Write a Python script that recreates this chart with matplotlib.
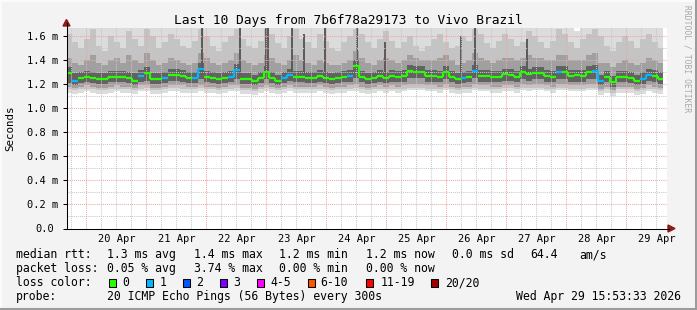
import numpy as np
import matplotlib
matplotlib.use("Agg")
import matplotlib.pyplot as plt
import matplotlib.dates as mdates
from matplotlib.patches import Rectangle, Polygon
from matplotlib.lines import Line2D
from matplotlib.transforms import ScaledTranslation
from datetime import datetime, timedelta

# ---------------- data ----------------
title = "Last 10 Days from 7b6f78a29173 to Vivo Brazil"
ylabel = "Seconds"
start = datetime(2026, 4, 19, 16, 0)
end = datetime(2026, 4, 29, 16, 0)
step_hours = 2.388

median = [
    1.29, 1.23, 1.25, 1.26, 1.25, 1.24, 1.24, 1.26, 1.26, 1.26,
    1.25, 1.23, 1.27, 1.29, 1.24, 1.24, 1.25, 1.28, 1.28, 1.27,
    1.25, 1.25, 1.33, 1.26, 1.25, 1.24, 1.255, 1.26, 1.32, 1.24,
    1.24, 1.23, 1.25, 1.30, 1.25, 1.23, 1.25, 1.28, 1.26, 1.26,
    1.255, 1.25, 1.27, 1.25, 1.24, 1.25, 1.26, 1.265, 1.35, 1.26,
    1.24, 1.25, 1.27, 1.25, 1.27, 1.26, 1.27, 1.31, 1.30, 1.30,
    1.27, 1.27, 1.26, 1.30, 1.26, 1.24, 1.25, 1.26, 1.31, 1.27,
    1.27, 1.26, 1.26, 1.285, 1.28, 1.26, 1.30, 1.285, 1.29, 1.29,
    1.27, 1.26, 1.30, 1.30, 1.27, 1.275, 1.27, 1.30, 1.31, 1.23,
    1.26, 1.22, 1.26, 1.26, 1.255, 1.23, 1.245, 1.28, 1.27, 1.245]

loss = [
    0, 1, 0, 0, 0, 0, 0, 0, 0, 0,
    0, 0, 1, 0, 0, 0, 1, 0, 0, 0,
    0, 1, 1, 0, 0, 0, 0, 1, 1, 0,
    0, 0, 0, 0, 0, 0, 1, 1, 0, 0,
    0, 0, 0, 0, 0, 0, 0, 1, 0, 0,
    0, 0, 0, 0, 0, 0, 0, 0, 0, 0,
    0, 0, 0, 0, 0, 0, 1, 0, 1, 0,
    0, 0, 0, 0, 0, 0, 0, 0, 0, 0,
    0, 0, 1, 0, 0, 0, 0, 0, 1, 1,
    0, 0, 0, 0, 0, 0, 1, 1, 0, 0]

hi1 = [
    1.70, 1.70, 1.70, 1.70, 1.70, 1.70, 1.70, 1.70, 1.70, 1.70,
    1.70, 1.70, 1.70, 1.70, 1.70, 1.70, 1.70, 1.70, 1.70, 1.70,
    1.70, 1.70, 1.70, 1.70, 1.70, 1.70, 1.70, 1.70, 1.70, 1.70,
    1.70, 1.70, 1.70, 1.70, 1.70, 1.70, 1.70, 1.70, 1.70, 1.70,
    1.70, 1.70, 1.70, 1.70, 1.70, 1.70, 1.70, 1.70, 1.70, 1.70,
    1.70, 1.70, 1.70, 1.70, 1.70, 1.70, 1.70, 1.70, 1.70, 1.70,
    1.70, 1.70, 1.70, 1.70, 1.70, 1.70, 1.70, 1.70, 1.70, 1.70,
    1.70, 1.70, 1.70, 1.70, 1.70, 1.70, 1.70, 1.70, 1.70, 1.70,
    1.70, 1.70, 1.70, 1.70, 1.70, 1.64, 1.70, 1.70, 1.70, 1.70,
    1.70, 1.70, 1.70, 1.70, 1.70, 1.70, 1.70, 1.70, 1.70, 1.70]

hi2 = [
    1.62, 1.55, 1.50, 1.58, 1.66, 1.52, 1.48, 1.60, 1.55, 1.50,
    1.64, 1.58, 1.52, 1.66, 1.60, 1.50, 1.55, 1.62, 1.58, 1.52,
    1.50, 1.56, 1.66, 1.60, 1.52, 1.48, 1.55, 1.60, 1.66, 1.58,
    1.52, 1.50, 1.56, 1.66, 1.62, 1.54, 1.50, 1.60, 1.66, 1.58,
    1.55, 1.50, 1.62, 1.56, 1.50, 1.48, 1.55, 1.60, 1.66, 1.62,
    1.55, 1.50, 1.58, 1.64, 1.56, 1.50, 1.55, 1.60, 1.52, 1.48,
    1.52, 1.58, 1.62, 1.55, 1.50, 1.52, 1.60, 1.56, 1.66, 1.62,
    1.54, 1.50, 1.56, 1.62, 1.58, 1.52, 1.55, 1.64, 1.60, 1.55,
    1.50, 1.56, 1.66, 1.62, 1.55, 1.50, 1.58, 1.62, 1.66, 1.60,
    1.52, 1.48, 1.55, 1.60, 1.56, 1.50, 1.58, 1.62, 1.55, 1.50]

hi3 = [
    1.42, 1.38, 1.36, 1.40, 1.44, 1.38, 1.36, 1.40, 1.42, 1.38,
    1.44, 1.40, 1.38, 1.46, 1.40, 1.36, 1.38, 1.42, 1.40, 1.38,
    1.36, 1.38, 1.46, 1.42, 1.38, 1.36, 1.38, 1.40, 1.46, 1.40,
    1.38, 1.36, 1.38, 1.44, 1.42, 1.38, 1.36, 1.40, 1.44, 1.40,
    1.38, 1.36, 1.40, 1.38, 1.36, 1.36, 1.38, 1.40, 1.48, 1.42,
    1.38, 1.36, 1.40, 1.42, 1.40, 1.38, 1.40, 1.44, 1.42, 1.40,
    1.40, 1.40, 1.42, 1.44, 1.40, 1.36, 1.38, 1.40, 1.46, 1.42,
    1.40, 1.38, 1.40, 1.42, 1.42, 1.40, 1.42, 1.44, 1.42, 1.42,
    1.40, 1.40, 1.44, 1.44, 1.40, 1.40, 1.40, 1.44, 1.46, 1.38,
    1.38, 1.34, 1.38, 1.40, 1.38, 1.36, 1.38, 1.42, 1.40, 1.38]

hi4 = [
    1.34, 1.29, 1.30, 1.31, 1.30, 1.29, 1.29, 1.31, 1.31, 1.31,
    1.30, 1.29, 1.32, 1.34, 1.29, 1.29, 1.30, 1.33, 1.33, 1.32,
    1.30, 1.30, 1.38, 1.31, 1.30, 1.29, 1.30, 1.31, 1.37, 1.29,
    1.29, 1.28, 1.30, 1.35, 1.30, 1.28, 1.30, 1.33, 1.31, 1.31,
    1.30, 1.30, 1.32, 1.30, 1.29, 1.30, 1.31, 1.32, 1.40, 1.31,
    1.29, 1.30, 1.32, 1.30, 1.32, 1.31, 1.32, 1.36, 1.35, 1.35,
    1.32, 1.32, 1.31, 1.35, 1.31, 1.29, 1.30, 1.31, 1.36, 1.32,
    1.32, 1.31, 1.31, 1.33, 1.33, 1.31, 1.35, 1.33, 1.34, 1.34,
    1.32, 1.31, 1.35, 1.35, 1.32, 1.32, 1.32, 1.35, 1.36, 1.28,
    1.31, 1.27, 1.31, 1.31, 1.30, 1.28, 1.30, 1.33, 1.32, 1.30]

lo4 = [
    1.21, 1.19, 1.21, 1.22, 1.21, 1.20, 1.20, 1.22, 1.22, 1.22,
    1.21, 1.19, 1.22, 1.23, 1.20, 1.20, 1.21, 1.23, 1.23, 1.22,
    1.21, 1.21, 1.24, 1.22, 1.21, 1.20, 1.21, 1.22, 1.24, 1.20,
    1.20, 1.19, 1.21, 1.24, 1.21, 1.19, 1.21, 1.23, 1.22, 1.22,
    1.21, 1.21, 1.22, 1.21, 1.20, 1.21, 1.22, 1.22, 1.25, 1.22,
    1.20, 1.21, 1.22, 1.21, 1.22, 1.22, 1.22, 1.25, 1.25, 1.25,
    1.22, 1.22, 1.22, 1.24, 1.22, 1.20, 1.21, 1.22, 1.25, 1.22,
    1.22, 1.22, 1.22, 1.23, 1.23, 1.22, 1.24, 1.23, 1.24, 1.24,
    1.22, 1.22, 1.24, 1.24, 1.22, 1.22, 1.22, 1.24, 1.24, 1.19,
    1.22, 1.18, 1.22, 1.22, 1.21, 1.19, 1.20, 1.23, 1.22, 1.20]

lo3 = [
    1.18, 1.17, 1.18, 1.19, 1.18, 1.17, 1.17, 1.18, 1.19, 1.18,
    1.18, 1.17, 1.19, 1.19, 1.17, 1.17, 1.18, 1.19, 1.19, 1.19,
    1.18, 1.18, 1.19, 1.18, 1.18, 1.17, 1.18, 1.19, 1.19, 1.17,
    1.17, 1.16, 1.18, 1.19, 1.18, 1.17, 1.18, 1.19, 1.18, 1.18,
    1.18, 1.18, 1.19, 1.18, 1.17, 1.18, 1.18, 1.19, 1.20, 1.18,
    1.17, 1.18, 1.19, 1.18, 1.19, 1.18, 1.19, 1.20, 1.20, 1.20,
    1.19, 1.19, 1.18, 1.20, 1.18, 1.17, 1.18, 1.18, 1.20, 1.19,
    1.19, 1.18, 1.18, 1.19, 1.19, 1.18, 1.20, 1.19, 1.20, 1.20,
    1.19, 1.18, 1.20, 1.20, 1.19, 1.19, 1.19, 1.20, 1.20, 1.16,
    1.18, 1.15, 1.18, 1.18, 1.18, 1.16, 1.17, 1.19, 1.18, 1.17]

lo2 = [
    1.16, 1.15, 1.16, 1.16, 1.16, 1.15, 1.15, 1.16, 1.16, 1.16,
    1.16, 1.15, 1.16, 1.17, 1.15, 1.15, 1.16, 1.17, 1.17, 1.16,
    1.16, 1.16, 1.17, 1.16, 1.16, 1.15, 1.16, 1.16, 1.17, 1.15,
    1.15, 1.14, 1.16, 1.17, 1.16, 1.15, 1.16, 1.17, 1.16, 1.16,
    1.16, 1.16, 1.16, 1.16, 1.15, 1.16, 1.16, 1.16, 1.17, 1.16,
    1.15, 1.16, 1.16, 1.16, 1.16, 1.16, 1.16, 1.17, 1.17, 1.17,
    1.16, 1.16, 1.16, 1.17, 1.16, 1.15, 1.16, 1.16, 1.17, 1.16,
    1.16, 1.16, 1.16, 1.17, 1.17, 1.16, 1.17, 1.17, 1.17, 1.17,
    1.16, 1.16, 1.17, 1.17, 1.16, 1.16, 1.16, 1.17, 1.17, 1.14,
    1.16, 1.13, 1.16, 1.16, 1.16, 1.14, 1.15, 1.16, 1.16, 1.15]

lo1 = [
    1.13, 1.12, 1.13, 1.14, 1.13, 1.12, 1.12, 1.13, 1.14, 1.13,
    1.13, 1.12, 1.14, 1.14, 1.12, 1.12, 1.13, 1.14, 1.14, 1.13,
    1.13, 1.13, 1.14, 1.13, 1.13, 1.12, 1.13, 1.14, 1.14, 1.12,
    1.12, 1.11, 1.13, 1.14, 1.13, 1.12, 1.13, 1.14, 1.13, 1.13,
    1.13, 1.13, 1.14, 1.13, 1.12, 1.13, 1.13, 1.14, 1.14, 1.13,
    1.12, 1.13, 1.14, 1.13, 1.14, 1.13, 1.14, 1.15, 1.15, 1.15,
    1.14, 1.14, 1.13, 1.15, 1.13, 1.12, 1.13, 1.13, 1.15, 1.14,
    1.14, 1.13, 1.13, 1.14, 1.14, 1.13, 1.15, 1.14, 1.15, 1.15,
    1.14, 1.13, 1.15, 1.15, 1.14, 1.14, 1.14, 1.15, 1.15, 1.11,
    1.13, 1.10, 1.13, 1.13, 1.13, 1.11, 1.12, 1.14, 1.13, 1.12]

# tall single-ping spikes (hours after start, top value in ms)
spike_hours = [0.4, 54.4, 69.2, 80.0, 80.8, 90.4, 95.2, 103.6, 116.4, 127.6, 158.0, 163.6, 184.0]
spike_top = [1.70, 1.70, 1.70, 1.70, 1.70, 1.70, 1.62, 1.70, 1.70, 1.55, 1.60, 1.70, 1.58]

ytick_vals = [0.0, 0.2, 0.4, 0.6, 0.8, 1.0, 1.2, 1.4, 1.6]
ytick_labels = ["0.0", "0.2 m", "0.4 m", "0.6 m", "0.8 m", "1.0 m", "1.2 m", "1.4 m", "1.6 m"]
xtick_days = [20, 21, 22, 23, 24, 25, 26, 27, 28, 29]
xtick_labels = ["20 Apr", "21 Apr", "22 Apr", "23 Apr", "24 Apr",
                "25 Apr", "26 Apr", "27 Apr", "28 Apr", "29 Apr"]

rtt_label = "median rtt:"
rtt_items = ["1.3 ms avg", "1.4 ms max", "1.2 ms min", "1.2 ms now", "0.0 ms sd", "64.4", "am/s"]
loss_label = "packet loss:"
loss_items = ["0.05 % avg", "3.74 % max", "0.00 % min", "0.00 % now"]
color_label = "loss color:"
loss_thresholds = [0, 1, 2, 3, 5, 10, 19, 20]
loss_names = ["0", "1", "2", "3", "4-5", "6-10", "11-19", "20/20"]
loss_colors = ["#26ff00", "#00b8ff", "#0059ff", "#7e00ff", "#ff00ff", "#ff5500", "#ff0000", "#a10000"]
probe_label = "probe:"
probe_text = "20 ICMP Echo Pings (56 Bytes) every 300s"
stamp = "Wed Apr 29 15:53:33 2026"
watermark = "RRDTOOL / TOBI OETIKER"

# ---------------- figure ----------------
W, H = 697, 310
MONO = "DejaVu Sans Mono"
fig = plt.figure(figsize=(W / 100, H / 100), dpi=100)
fig.patch.set_facecolor("#f3f3f3")


def fx(x):
    return x / W


def fy(y):
    return 1 - y / H


L, R, T, B = 66.5, 666.5, 28.0, 228.5
ax = fig.add_axes([fx(L), fy(B), (R - L) / W, (B - T) / H])
ax.set_facecolor("white")
x0 = mdates.date2num(start)
x1 = mdates.date2num(end)
ax.set_xlim(x0, x1)
ax.set_ylim(0, 1.668)

n = len(median)
edges = x0 + np.arange(n + 1) * step_hours / 24.0


def ext(a):
    a = np.asarray(a, float)
    return np.append(a, a[-1])


bands = [(lo1, hi1, "#dcdcdc"), (lo2, hi2, "#c4c4c4"),
         (lo3, hi3, "#a0a0a0"), (lo4, hi4, "#626262")]
for lo, hi, c in bands:
    ax.fill_between(edges, ext(lo), ext(hi), step="post", color=c, lw=0, zorder=1)

ax.vlines(x0 + np.array(spike_hours) / 24.0, 1.28, spike_top, colors="#5a5a5a",
          lw=1.4, zorder=1.5)

# grid
RED = "#f2a4a4"
GREY = "#c8c8c8"
for k in range(1, 17):
    v = k * 0.1
    ax.axhline(v, color=RED if k % 2 == 0 else GREY, lw=0.75, ls=(0, (1, 1)), zorder=2)
day0 = datetime(2026, 4, 19)
for h in range(0, 11 * 24 + 1, 6):
    t = day0 + timedelta(hours=h)
    if t <= start or t >= end:
        continue
    xv = mdates.date2num(t)
    ax.axvline(xv, color=RED if h % 24 == 0 else GREY, lw=0.75, ls=(0, (1, 1)), zorder=2)

# median line coloured by loss


def loss_color(l):
    for th, c in zip(loss_thresholds, loss_colors):
        if l <= th:
            return c
    return loss_colors[-1]


cols = [loss_color(l) for l in loss]
ax.hlines(median, edges[:-1], edges[1:], colors=cols, lw=1.6, zorder=4)
for i in range(n - 1):
    if cols[i] == cols[i + 1]:
        ax.vlines(edges[i + 1], median[i], median[i + 1], colors=cols[i], lw=1.6, zorder=4)

# axes styling
for s in ["top", "right"]:
    ax.spines[s].set_visible(False)
for s in ["left", "bottom"]:
    ax.spines[s].set_linewidth(0.75)
    ax.spines[s].set_color("black")
    ax.spines[s].set_zorder(5)

ax.set_yticks(ytick_vals, ytick_labels)
ax.tick_params(axis="y", length=3, width=0.75, pad=3, labelsize=7.5,
               direction="out", colors="black")
for lbl in ax.get_yticklabels():
    lbl.set_fontfamily(MONO)
zl = ax.get_yticklabels()[0]
zl.set_transform(zl.get_transform() + ScaledTranslation(-0.045, 0, fig.dpi_scale_trans))

xt = [mdates.date2num(datetime(2026, 4, d, 12)) for d in xtick_days]
ax.set_xticks(xt, xtick_labels)
ax.tick_params(axis="x", length=0, pad=4.2, labelsize=7.5)
for lbl in ax.get_xticklabels():
    lbl.set_fontfamily(MONO)

# axis overshoots and arrows
fig.add_artist(Line2D([fx(R), fx(669)], [fy(B), fy(B)], color="black", lw=0.75))
fig.add_artist(Line2D([fx(L), fx(L)], [fy(T), fy(23)], color="black", lw=0.75))
fig.add_artist(Polygon([(fx(668), fy(225)), (fx(668), fy(232)), (fx(675), fy(228.5))],
                       closed=True, color="#8e1a1a", transform=fig.transFigure))
fig.add_artist(Polygon([(fx(63), fy(26)), (fx(70), fy(26)), (fx(66.5), fy(19.5))],
                       closed=True, color="#8e1a1a", transform=fig.transFigure))

# titles
fig.text(fx(348), fy(24), title, ha="center", va="baseline", family=MONO, fontsize=9.3)
fig.text(fx(10.5), fy(128), ylabel, ha="center", va="center", rotation=90,
         family=MONO, fontsize=7.8)
fig.text(fx(687.5), fy(59), watermark, ha="center", va="center", rotation=270,
         family=MONO, fontsize=5.8, color="#a8a8a8")

# legend
LFS = 8.3
rows = [258.3, 272.2, 286.1, 300.0]
fig.text(fx(16), fy(rows[0]), rtt_label, family=MONO, fontsize=LFS, va="baseline")
for xpos, s in zip([107, 194, 279, 366, 452, 530, 579], rtt_items):
    fig.text(fx(xpos), fy(rows[0]), s, family=MONO, fontsize=LFS, va="baseline")
fig.text(fx(16), fy(rows[1]), loss_label, family=MONO, fontsize=LFS, va="baseline")
for xpos, s in zip([107, 194, 279, 366], loss_items):
    fig.text(fx(xpos), fy(rows[1]), s, family=MONO, fontsize=LFS, va="baseline")
fig.text(fx(16), fy(rows[2]), color_label, family=MONO, fontsize=LFS, va="baseline")
box_x = [108.5, 145.5, 182.5, 219.5, 256.5, 307.5, 365.5, 430.5]
text_x = [122.5, 159.5, 196.5, 233.5, 270.5, 320.0, 380.5, 445.0]
for bx, tx, c, s in zip(box_x, text_x, loss_colors, loss_names):
    fig.add_artist(Rectangle((fx(bx), fy(286.5)), 7.5 / W, 8 / H, transform=fig.transFigure,
                             facecolor=c, edgecolor="black", lw=0.75))
    fig.text(fx(tx), fy(rows[2]), s, family=MONO, fontsize=LFS, va="baseline")
fig.text(fx(16), fy(rows[3]), probe_label, family=MONO, fontsize=LFS, va="baseline")
fig.text(fx(107), fy(rows[3]), probe_text, family=MONO, fontsize=LFS, va="baseline")
fig.text(fx(681), fy(rows[3]), stamp, family=MONO, fontsize=LFS, va="baseline", ha="right")

# 3D frame
fig.add_artist(Line2D([0, 1], [fy(0.75), fy(0.75)], color="#fcfcfc", lw=1.4))
fig.add_artist(Line2D([fx(0.75), fx(0.75)], [0, 1], color="#fcfcfc", lw=1.4))
fig.add_artist(Line2D([0, 1], [fy(308.5), fy(308.5)], color="#9c9c9c", lw=2.2))
fig.add_artist(Line2D([fx(695.5), fx(695.5)], [0, 1], color="#9c9c9c", lw=2.2))

fig.savefig("out.png", dpi=100, facecolor=fig.get_facecolor())
